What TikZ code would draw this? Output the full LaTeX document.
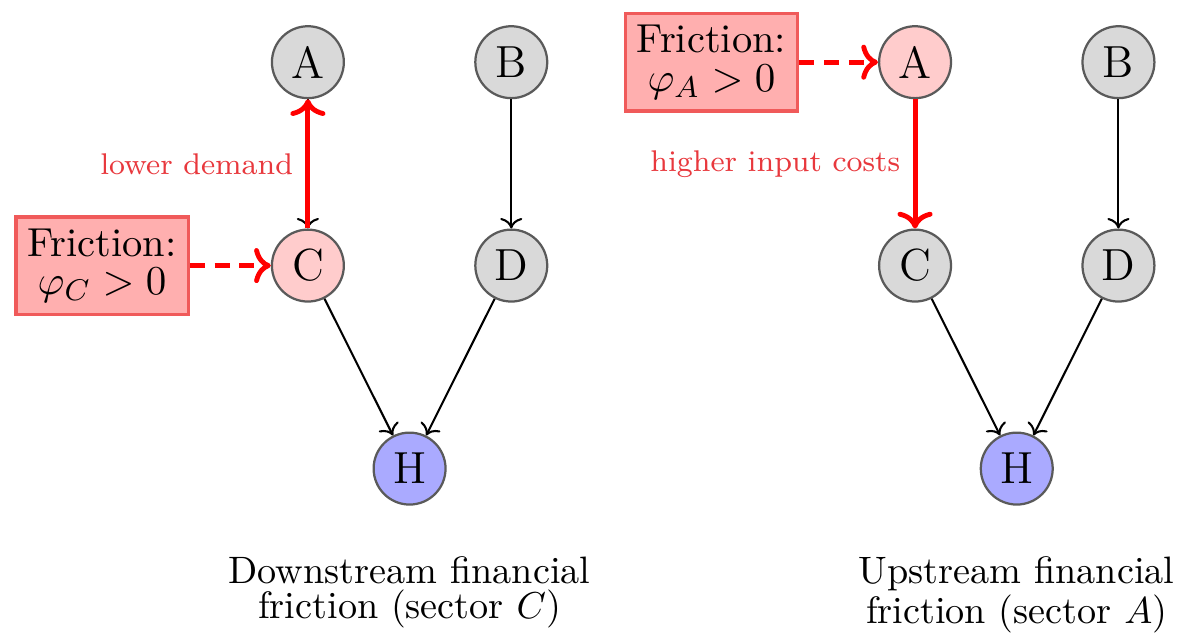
\documentclass[tikz,border=0pt]{standalone}
\usepackage{amsmath,amssymb}
\usepackage{xcolor}
\usepackage{tikz}
\usetikzlibrary{arrows.meta,positioning,calc}
\definecolor{nodegray}{HTML}{D9D9D9}
\definecolor{nodeline}{HTML}{5A5A5A}
\definecolor{nodepink}{HTML}{FFCCCC}
\definecolor{nodeblue}{HTML}{AAAAFF}
\definecolor{boxfill}{HTML}{FFAFAF}
\definecolor{boxline}{HTML}{F05A5A}
\definecolor{shockred}{HTML}{FF0000}
\definecolor{labelred}{HTML}{E8383D}
\tikzset{
    sector/.style={circle,draw=nodeline,fill=nodegray,line width=0.6pt,
      minimum size=19.2pt,inner sep=0pt,font=\large},
    shocked/.style={fill=nodepink},
    household/.style={fill=nodeblue},
    frictionbox/.style={draw=boxline,fill=boxfill,line width=0.9pt,
      minimum width=46pt,minimum height=26pt,inner sep=2pt,align=center,
      font=\fontsize{10.8}{10.2}\selectfont},
    flow/.style={->,draw=black,line width=0.55pt},
    shock/.style={->,draw=shockred,line width=1.3pt},
    shockdash/.style={shock,dash pattern=on 4pt off 2.6pt},
    shocklabel/.style={font=\footnotesize,text=labelred},
    caption/.style={align=center,font=\fontsize{10.2}{9.5}\selectfont}
}
\begin{document}
\begin{tikzpicture}
  \useasboundingbox (-82.2pt,16.6pt) rectangle (233.9pt,-152.7pt);

  % downstream friction
  \node[sector] (A) at (0,0) {A};
  \node[sector,right=34.5pt of A] (B) {B};
  \node[sector,shocked,below=34.5pt of A] (C) {C};
  \node[sector,below=34.5pt of B] (D) {D};
  \coordinate (CD) at ($(C)!0.5!(D)$);
  \node[sector,household,below=44.3pt of CD] (H) {H};
  \node[frictionbox,left=21.6pt of C] (fC) {Friction:\\$\varphi_C>0$};

  \draw[flow] (A) -- (C);
  \draw[shock] (C) -- node[left,shocklabel] {lower demand} (A);
  \draw[flow] (B) -- (D);
  \draw[flow] (C) -- (H);
  \draw[flow] (D) -- (H);
  \draw[shockdash] (fC) -- (C);
  \node[caption,below=10pt of H] (capC) {Downstream financial\\friction (sector $C$)};

  % upstream friction
  \node[sector,shocked,right=88pt of B] (A2) {A};
  \node[sector,right=34.5pt of A2] (B2) {B};
  \node[sector,below=34.5pt of A2] (C2) {C};
  \node[sector,below=34.5pt of B2] (D2) {D};
  \coordinate (CD2) at ($(C2)!0.5!(D2)$);
  \node[sector,household,below=44.3pt of CD2] (H2) {H};
  \node[frictionbox,left=21pt of A2] (fA) {Friction:\\$\varphi_A>0$};

  \draw[shock] (A2) -- node[left,shocklabel] {higher input costs} (C2);
  \draw[flow] (B2) -- (D2);
  \draw[flow] (C2) -- (H2);
  \draw[flow] (D2) -- (H2);
  \draw[shockdash] (fA) -- (A2);
  \node[caption,below=10pt of H2] (capA) {Upstream financial\\friction (sector $A$)};
\end{tikzpicture}
\end{document}
